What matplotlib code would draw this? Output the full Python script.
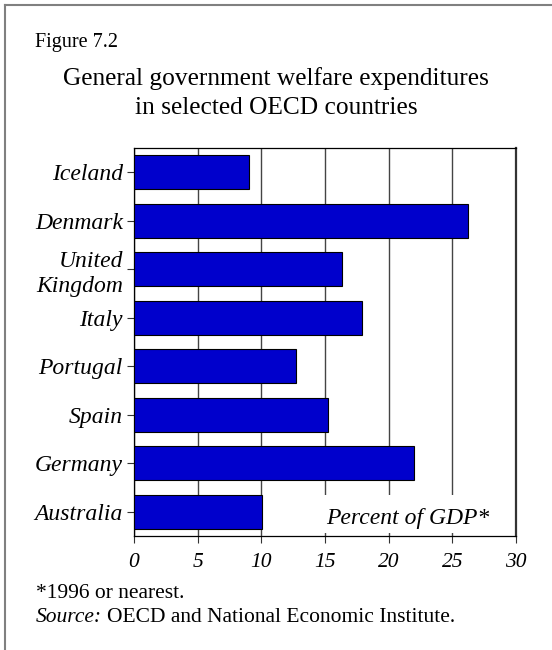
import matplotlib
matplotlib.use("Agg")
import matplotlib.pyplot as plt
from matplotlib.lines import Line2D
from matplotlib.patches import Rectangle

countries = ["Iceland", "Denmark", "United\nKingdom", "Italy",
             "Portugal", "Spain", "Germany", "Australia"]
pct_gdp = [9.05, 26.2, 16.35, 17.9, 12.7, 15.2, 22.0, 10.05]
x_ticks = [0, 5, 10, 15, 20, 25, 30]

plt.rcParams["font.family"] = ["Liberation Serif", "DejaVu Serif"]

W, H = 552, 650
fig = plt.figure(figsize=(W / 100, H / 100), dpi=100)


def fx(px):
    return px / W


def fy(py):
    return 1 - py / H


# page frame: top and left rules only
fig.add_artist(Line2D([fx(5), 1], [fy(5), fy(5)], color="#808080", lw=1.5))
fig.add_artist(Line2D([fx(5), fx(5)], [fy(5), 0], color="#808080", lw=1.5))

fig.text(fx(35), fy(42), "Figure 7.2", fontsize=14.5, va="center", ha="left")
fig.text(fx(276), fy(79), "General government welfare expenditures",
         fontsize=18.3, va="center", ha="center")
fig.text(fx(276), fy(108), "in selected OECD countries",
         fontsize=18.3, va="center", ha="center")
fig.text(fx(36), fy(593), "*1996 or nearest.", fontsize=15.5, va="center", ha="left")
src = fig.text(fx(36), fy(617), "Source:", fontsize=15.5, style="italic",
               va="center", ha="left")
renderer = fig.canvas.get_renderer()
src_end = src.get_window_extent(renderer).x1
fig.text(src_end / W + fx(5), fy(617), "OECD and National Economic Institute.",
         fontsize=15.5, va="center", ha="left")

ax = fig.add_axes([fx(134), fy(536), (516 - 134) / W, (536 - 148) / H])

ypos = list(range(len(countries)))
ax.barh(ypos, pct_gdp, height=0.7, color="#0000CC", edgecolor="black",
        linewidth=0.8, zorder=3)
ax.set_xlim(0, 30)
ax.set_ylim(len(countries) - 0.5, -0.5)
ax.set_yticks(ypos)
ax.set_yticklabels(countries, fontsize=17, style="italic", ha="right",
                   linespacing=1.25)
ax.set_xticks(x_ticks)
ax.set_xticklabels([str(t) for t in x_ticks], fontsize=15.5, style="italic")
ax.tick_params(axis="both", direction="out", length=5, width=0.8, color="#333333")
ax.tick_params(axis="y", pad=3)
ax.tick_params(axis="x", pad=7)
ax.grid(axis="x", color="#444444", linewidth=1.0, zorder=1)
ax.set_axisbelow(True)
for side in ["top", "bottom", "left"]:
    ax.spines[side].set_linewidth(0.9)
    ax.spines[side].set_color("black")
ax.spines["right"].set_linewidth(1.6)
ax.spines["right"].set_color("#333333")

# white panel behind the unit label, hiding the gridlines there
ax.add_patch(Rectangle((14.7, 6.65), 15.1, 0.79, facecolor="white",
                       edgecolor="none", zorder=2))
ax.text(15.05, 7.13, "Percent of GDP*", fontsize=17, style="italic",
        ha="left", va="center", zorder=4)

fig.savefig("out.png", dpi=100)
